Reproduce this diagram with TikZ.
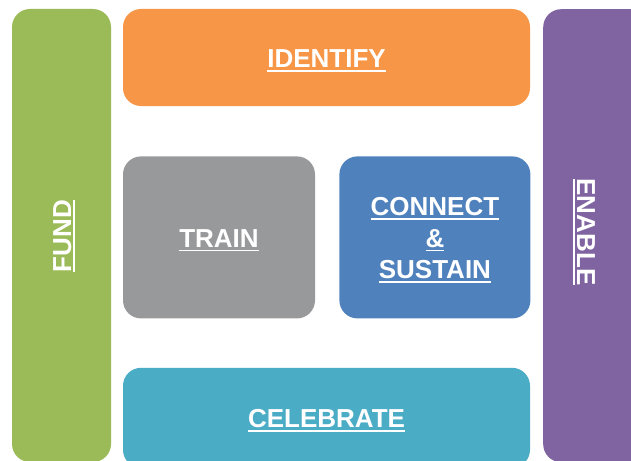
\documentclass[tikz,border=0pt]{standalone}
\usepackage{fontspec}
\setmainfont{Liberation Sans}
\usetikzlibrary{positioning}
\definecolor{fundgreen}{HTML}{9BBB59}
\definecolor{identorange}{HTML}{F79646}
\definecolor{traingray}{HTML}{98999B}
\definecolor{connectblue}{HTML}{4F81BD}
\definecolor{celebteal}{HTML}{4BACC6}
\definecolor{enablepurple}{HTML}{8064A2}
\newcommand{\ulword}[1]{\setbox0\hbox{#1}\rlap{\rule[-4pt]{\wd0}{1.7pt}}\box0\rule{0pt}{24pt}}

\begin{document}
\begin{tikzpicture}[x=1pt, y=-1pt,
    block/.style={rounded corners=18pt, inner sep=0pt},
    word/.style={text=white, font=\bfseries\fontsize{26}{31.5}\selectfont, align=center, inner sep=0pt}]
    \useasboundingbox (0,0) rectangle (631,460);
    \clip (0,0) rectangle (631,460);
    % Top band
    \node[block, word, fill=identorange, minimum width=407pt, minimum height=97pt] (identify) at (326.5,57.5) {\ulword{IDENTIFY}};
    % Middle row
    \node[block, word, fill=traingray, minimum width=192pt, minimum height=162pt,
          below=50pt of identify.south west, anchor=north west] (train) {\ulword{TRAIN}};
    \node[block, word, fill=connectblue, minimum width=191pt, minimum height=162pt,
          right=24pt of train] (connect) {\ulword{CONNECT}\\\ulword{\&}\\\ulword{SUSTAIN}};
    % Bottom band
    \node[block, word, fill=celebteal, minimum width=407pt, minimum height=100pt,
          below=49pt of train.south west, anchor=north west] (celebrate) {\ulword{CELEBRATE}};

    % Side bars
    \node[block, fill=fundgreen, minimum width=99pt, minimum height=453pt] (fund) at (61.5,235.5) {};
    \node[word, rotate=90] (fundtext) at (61,236) {\ulword{FUND}};
    \node[block, fill=enablepurple, minimum width=110pt, minimum height=453pt, anchor=north west] (enable) at (543,9) {};
    \node[word, rotate=-90] (enabletext) at (587,232) {\ulword{ENABLE}};
\end{tikzpicture}
\end{document}
